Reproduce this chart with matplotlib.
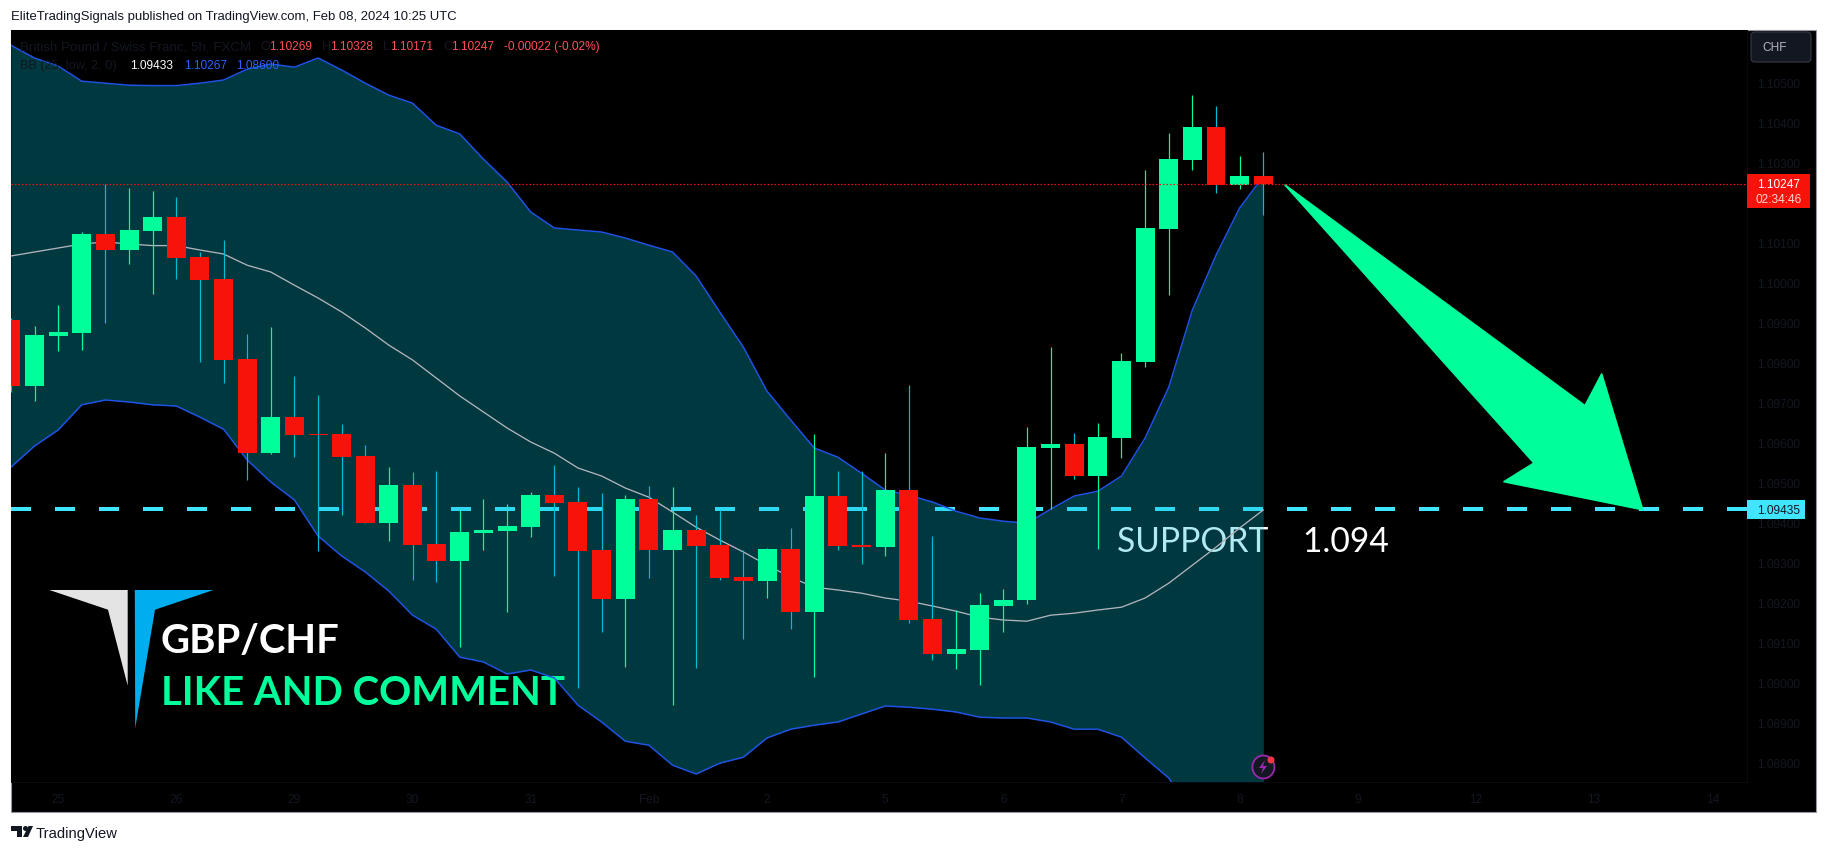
import numpy as np
import matplotlib
matplotlib.use("Agg")
import matplotlib.pyplot as plt
from matplotlib.patches import Polygon, Rectangle, FancyBboxPatch, Ellipse
from matplotlib.transforms import ScaledTranslation

# ---- data (prices in 1e-5 units) ----
open_ = [109908,109743,109868,109875,110123,110083,110130,110165,110065,110010,
         109810,109575,109665,109623,109623,109568,109400,109495,109348,109305,
         109375,109380,109390,109470,109453,109333,109210,109460,109333,109383,
         109345,109265,109255,109335,109178,109468,109345,109340,109483,109160,
         109073,109083,109193,109208,109588,109598,109518,109613,109803,110135,
         110308,110390,110245,110269]
high_ = [109913,109893,109946,110128,110248,110238,110230,110215,110078,110108,
         109873,109890,109768,109720,109648,109595,109540,109528,109530,109433,
         109460,109448,109478,109545,109490,109475,109470,109493,109490,109420,
         109433,109333,109338,109388,109623,109530,109530,109575,109745,109368,
         109183,109225,109235,109640,109840,109625,109650,109825,110283,110375,
         110470,110443,110318,110328]
low_ = [109728,109705,109830,109833,109900,110048,109973,110010,109803,109750,
        109508,109573,109565,109330,109420,109400,109355,109258,109253,109090,
        109333,109178,109365,109268,108988,109128,109040,109263,108945,109038,
        109258,109110,109213,109135,109015,109333,109298,109318,109150,109058,
        109035,108995,109128,109198,109435,109510,109335,109563,109790,109970,
        110283,110226,110236,110171]
close_ = [109743,109870,109878,110123,110083,110133,110165,110063,110008,109808,
          109575,109665,109620,109620,109565,109400,109495,109345,109305,109378,
          109383,109393,109470,109450,109330,109210,109460,109333,109383,109343,
          109263,109255,109335,109178,109468,109343,109340,109483,109158,109073,
          109085,109195,109208,109590,109598,109518,109615,109805,110138,110310,
          110390,110245,110268,110247]
upper_band = [110595,110563,110543,110505,110500,110495,110494,110494,110500,110508,
              110535,110548,110540,110563,110533,110500,110470,110450,110395,110373,
              110310,110253,110178,110138,110133,110128,110113,110095,110078,110018,
              109928,109840,109730,109658,109588,109565,109525,109483,109470,109453,
              109430,109413,109405,109400,109435,109468,109480,109518,109613,109740,
              109933,110070,110188,110267]
basis_band = [110068,110078,110088,110098,110103,110098,110094,110094,110083,110073,
              110045,110028,109995,109963,109928,109888,109845,109808,109763,109718,
              109678,109638,109603,109575,109538,109518,109488,109465,109428,109390,
              109358,109328,109295,109265,109240,109233,109225,109213,109205,109193,
              109180,109165,109158,109155,109170,109175,109183,109190,109213,109250,
              109295,109340,109388,109433]
lower_band = [109540,109593,109633,109696,109708,109703,109696,109693,109665,109635,
              109558,109503,109458,109368,109318,109278,109230,109170,109135,109065,
              109053,109023,109033,109013,108945,108903,108855,108845,108795,108773,
              108800,108815,108863,108885,108895,108903,108923,108943,108940,108935,
              108928,108915,108913,108913,108903,108885,108885,108865,108813,108763,
              108670,108633,108613,108600]
support_level = 1.09435
price_ticks = [1.088,1.089,1.090,1.091,1.092,1.093,1.094,1.095,1.096,1.097,1.098,
               1.099,1.100,1.101,1.103,1.104,1.105]
date_ticks = [2,7,12,17,22,27,32,37,42,47,52,57,62,67,72]
date_labels = ["25","26","29","30","31","Feb","2","5","6","7","8","9","12","13","14"]

W, H = 1826, 853
plt.rcParams["lines.scale_dashes"] = False
plt.rcParams["font.family"] = ["Liberation Sans", "DejaVu Sans"]
GREEN, RED, CYAN, DARK = "#00FF9B", "#F7120A", "#00BCD4", "#131722"
BLUE, GREY, SUP = "#1E53E5", "#B2B5BE", "#40E5FF"
px = lambda v: v * 0.72

fig = plt.figure(figsize=(W/100, H/100), dpi=100, facecolor="white")
bg = fig.add_axes([0, 0, 1, 1], zorder=0)
bg.set_xlim(0, W); bg.set_ylim(H, 0); bg.axis("off")
bg.add_patch(Rectangle((10.5, 30.5), 1805, 782.5, fc="black", ec="#9598A1", lw=0.8))

ax = fig.add_axes([11/W, 1-783/H, (1747-11)/W, (783-31)/H], zorder=1, facecolor="black")
ov = fig.add_axes([0, 0, 1, 1], zorder=5)
ov.set_xlim(0, W); ov.set_ylim(H, 0); ov.axis("off"); ov.patch.set_alpha(0)

o, h, l, c = [np.array(a)/1e5 for a in (open_, high_, low_, close_)]
up, mid, lo = [np.array(a)/1e5 for a in (upper_band, basis_band, lower_band)]
x = np.arange(len(o))
bull = c >= o

ax.set_xlim((11-10.87)/23.63, (1747-10.87)/23.63)
ax.set_ylim(1.08753, 1.10633)

# below the band fill
ax.axhline(support_level, color=SUP, lw=px(4), ls=(0, (px(20), px(24))),
           dash_capstyle="butt", zorder=1)
ax.text(1117, 551.5, "SUPPORT    1.094", transform=ov.transData, color="white",
        family="Lato", fontsize=px(33.7), va="baseline", ha="left", zorder=1, clip_on=False)

ax.fill_between(x, up, lo, color=CYAN, alpha=0.3, lw=0, zorder=2)

# logo and promo text above the fill
for pts, col in [([(49.4,591),(127.7,591),(127.7,686.7),(108,610.7)], "#E4E4E4"),
                 ([(134.8,591),(213.5,591),(155,610.7),(135.2,729.3)], "#00AEEF")]:
    ax.add_patch(Polygon(pts, closed=True, fc=col, ec="none", transform=ov.transData, zorder=2.5))
ax.text(161, 653, "GBP/CHF", transform=ov.transData, color="white", family="Lato",
        fontweight="bold", fontsize=px(40), va="baseline", zorder=2.5)
ax.text(161, 705, "LIKE AND COMMENT", transform=ov.transData, color=GREEN, family="Lato",
        fontweight="bold", fontsize=px(40), va="baseline", zorder=2.5)

ax.plot(x, up, color=BLUE, lw=px(1.5), zorder=3)
ax.plot(x, lo, color=BLUE, lw=px(1.5), zorder=3)
ax.plot(x, mid, color=GREY, lw=px(1.3), zorder=3)

ax.vlines(x[bull], l[bull], h[bull], color=GREEN, lw=px(1.2), zorder=4)
ax.vlines(x[~bull], l[~bull], h[~bull], color=CYAN, lw=px(1.2), zorder=4)
ax.bar(x[bull], (c-o)[bull], bottom=o[bull], width=0.804, color=GREEN, lw=0, zorder=5)
ax.bar(x[~bull], (o-c)[~bull], bottom=c[~bull], width=0.804, color=RED, lw=0, zorder=5)

ax.add_patch(Polygon([(1285,186),(1585,406.7),(1601.7,375),(1642.7,510.7),(1504,482.7),(1534,464)],
                     closed=True, fc=GREEN, ec=GREEN, lw=1.2, joinstyle="round",
                     transform=ov.transData, zorder=6))
ax.axhline(c[-1], color=RED, lw=px(1.2), ls=(0, (px(1.5), px(2))), zorder=7)

# axes
ax.yaxis.tick_right()
ax.set_yticks(price_ticks)
ax.set_yticklabels([f"{p:.5f}" for p in price_ticks])
ax.set_xticks(date_ticks)
ax.set_xticklabels(date_labels)
ax.tick_params(axis="y", length=0, pad=7, labelcolor=DARK, labelsize=8.6)
ax.tick_params(axis="x", length=0, pad=8, labelcolor=DARK, labelsize=8.6)
shift_up = ScaledTranslation(0, 1/100, fig.dpi_scale_trans)
for lab in ax.get_yticklabels():
    lab.set_transform(lab.get_transform() + shift_up)
for s in ("top", "left"):
    ax.spines[s].set_visible(False)
for s in ("bottom", "right"):
    ax.spines[s].set_color("#0A0C11"); ax.spines[s].set_linewidth(0.7)

# overlay texts
def T(xp, yp, s, col=DARK, size=8.6, **kw):
    ov.text(xp, yp, s, color=col, fontsize=size, va="center", ha=kw.pop("ha", "left"), **kw)

T(11, 16.5, "EliteTradingSignals published on TradingView.com, Feb 08, 2024 10:25 UTC", size=9.47)
LR = "#FF5252"
T(20, 47, "British Pound / Swiss Franc, 5h, FXCM", size=9.65)
for xp, s in [(260,"O"),(322,"H"),(383,"L"),(443,"C")]:
    T(xp, 47, s, size=9.2)
for xp, s in [(269,f"{o[-1]:.5f}"),(330,f"{h[-1]:.5f}"),(390,f"{l[-1]:.5f}"),(451,f"{c[-1]:.5f}"),
              (504,"-0.00022 (-0.02%)")]:
    T(xp, 47, s, col=LR, size=8.6)
T(20, 66, "BB (25, low, 2, 0)", size=9.2)
T(130, 66, f"{mid[-1]:.5f}", col="white")
T(184, 66, f"{up[-1]:.5f}", col="#2962FF")
T(236, 66, f"{lo[-1]:.5f}", col="#2962FF")

ov.add_patch(FancyBboxPatch((1753, 35), 56, 26, boxstyle="round,pad=2,rounding_size=4",
                            fc=DARK, ec="#363A45", lw=0.8))
T(1762, 48, "CHF", col=GREY, size=8.6)
ov.add_patch(Rectangle((1747, 175), 63, 34, fc=RED, ec="none"))
T(1757, 185, f"{c[-1]:.5f}", col="white")
T(1755, 199.5, "02:34:46", col="#FFD5D3")
ov.add_patch(Rectangle((1747, 501), 58, 19, fc=SUP, ec="none"))
T(1757, 510.5, f"{support_level:.5f}", col=DARK)

# lightning badge
ov.add_patch(Ellipse((1263.4, 768), 22, 23, fc=DARK, ec="#9C27B0", lw=1.3))
ov.add_patch(Polygon([(1265,761),(1259,769),(1263,769),(1261,775),(1267,767),(1263,767)],
                     closed=True, fc="#9C27B0", ec="none"))
ov.add_patch(Ellipse((1271, 761), 7, 7, fc="#F23645", ec="none"))

# footer brand
ov.add_patch(Polygon([(11,827),(22,827),(22,838),(17,838),(17,832),(11,832)], closed=True, fc=DARK, ec="none"))
ov.add_patch(Ellipse((25.5,829.5), 5, 5, fc=DARK, ec="none"))
ov.add_patch(Polygon([(28.5,827),(33,827),(28,838),(23,838)], closed=True, fc=DARK, ec="none"))
T(36, 834, "TradingView", size=10.6)

fig.savefig("out.png", dpi=100, facecolor="white")
